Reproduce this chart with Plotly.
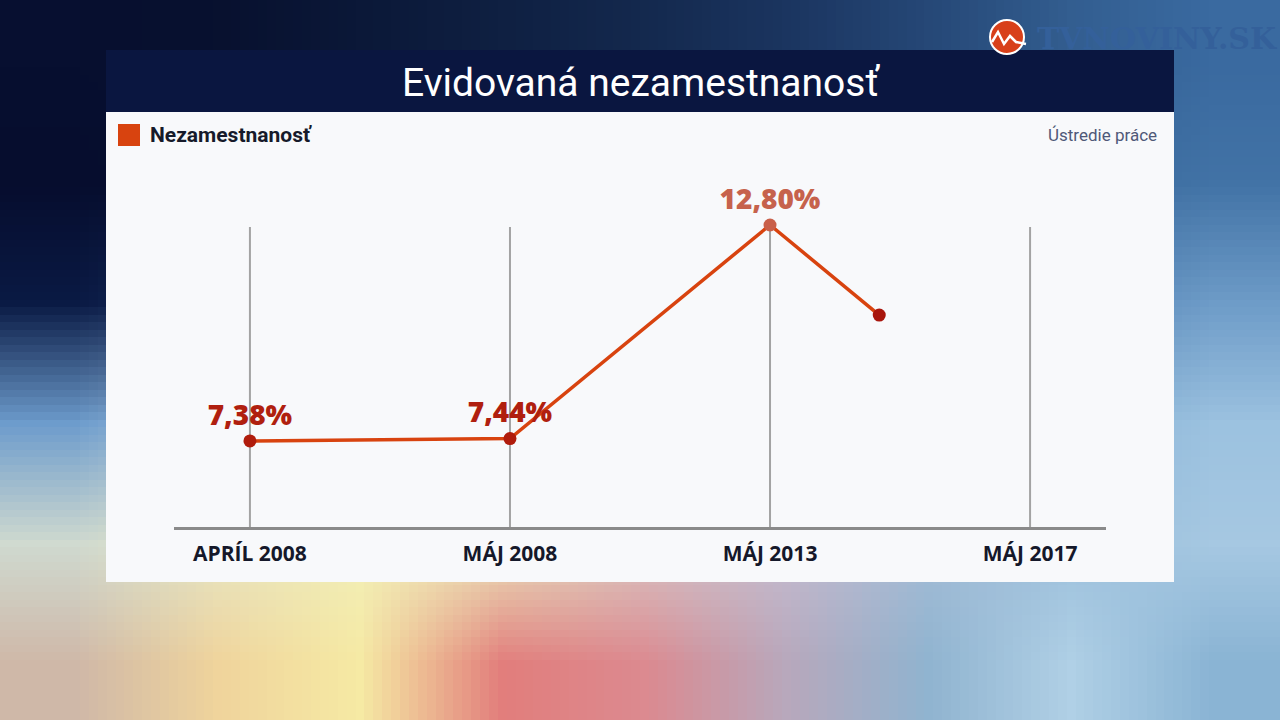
import base64
import struct
import zlib

import plotly.graph_objects as go

# Data read from the TV graphic
period_labels = ["APRÍL 2008", "MÁJ 2008", "MÁJ 2013", "MÁJ 2017"]
period_pos = [0, 1, 2, 3]
point_pos = [0, 1, 2, 2.42]          # last point is still "moving" in the animation
unemployment = [7.38, 7.44, 12.80, 10.54]
point_labels = ["7,38%", "7,44%", "12,80%", ""]

W, H = 1280, 720
Y_BOTTOM = 5.22      # value sitting on the base line
GRID_TOP = 12.75     # vertical guide lines stop here


def px(x):
    return x / W


def py(y):
    return 1 - y / H


def png_data_uri(rows):
    """Build a tiny RGB png from a grid of hex colours (browser stretches & smooths it)."""
    h = len(rows)
    w = len(rows[0])
    raw = b""
    for row in rows:
        raw += b"\x00"
        for c in row:
            c = c.lstrip("#")
            raw += bytes(int(c[i:i + 2], 16) for i in (0, 2, 4))

    def chunk(tag, data):
        out = struct.pack(">I", len(data)) + tag + data
        return out + struct.pack(">I", zlib.crc32(tag + data) & 0xFFFFFFFF)

    png = b"\x89PNG\r\n\x1a\n"
    png += chunk(b"IHDR", struct.pack(">IIBBBBB", w, h, 8, 2, 0, 0, 0))
    png += chunk(b"IDAT", zlib.compress(raw))
    png += chunk(b"IEND", b"")
    return "data:image/png;base64," + base64.b64encode(png).decode()


# rough background colours (blurred studio backdrop)
bg_grid = [
    ["#070f30", "#08112f", "#0b1838", "#0f2042", "#14294e", "#1b3560", "#264877", "#335e90", "#3a6aa0"],
    ["#060d2e", "#08112f", "#0b1838", "#0f2042", "#14294e", "#1b3560", "#2b5080", "#3c6c9e", "#4273a6"],
    ["#0a1a44", "#1a3060", "#5a78a0", "#8aa0c0", "#a0b4cc", "#90aacb", "#6e94c0", "#5a88b8", "#6e9cc8"],
    ["#6d9ccc", "#a4c0dc", "#d8dcd8", "#e4e0d0", "#d8d4d8", "#c0ccdc", "#98b8d8", "#8ab4d6", "#9cc2e0"],
    ["#d0dad0", "#e6e6c4", "#f2efb8", "#eae4bc", "#d8c4c4", "#c4bcd0", "#a4bcd6", "#9cc0dc", "#a6c8e2"],
    ["#cfb8a8", "#f0d49c", "#f6eaa4", "#e27e7c", "#dc8a90", "#b8a8bc", "#90b4d0", "#b0d0e6", "#8ab4d4"],
]

fig = go.Figure()

# vertical guide lines at each period
for pos in period_pos:
    fig.add_shape(type="line", xref="x", yref="y", x0=pos, x1=pos, y0=Y_BOTTOM, y1=GRID_TOP,
                  line=dict(color="#a3a3a3", width=2), layer="below")

fig.add_trace(go.Scatter(
    x=point_pos,
    y=unemployment,
    mode="lines+markers+text",
    line=dict(color="#d8430f", width=3.5),
    marker=dict(size=13, color=["#b01c0c", "#b01c0c", "#c9604a", "#a8150c"]),
    text=point_labels,
    textposition="top center",
    textfont=dict(family="Open Sans", size=28, weight=800,
                  color=["#b01f0f", "#b01f0f", "#c6624c", "#b01f0f"]),
    cliponaxis=False,
    hoverinfo="skip",
    showlegend=False,
))

shapes = [
    # title bar
    dict(type="rect", xref="paper", yref="paper", x0=px(106), x1=px(1174), y0=py(112), y1=py(50),
         fillcolor="#0a1640", line_width=0, layer="below"),
    # white panel
    dict(type="rect", xref="paper", yref="paper", x0=px(106), x1=px(1174), y0=py(582), y1=py(112),
         fillcolor="#f8f9fb", line_width=0, layer="below"),
    # legend swatch
    dict(type="rect", xref="paper", yref="paper", x0=px(118), x1=px(140), y0=py(146), y1=py(124),
         fillcolor="#d8430f", line_width=0),
    # logo circle
    dict(type="circle", xref="paper", yref="paper", x0=px(990), x1=px(1024), y0=py(54), y1=py(20),
         fillcolor="#d8401a", line=dict(color="white", width=2)),
    dict(type="path", xref="paper", yref="paper",
         path=f"M {px(992)} {py(42)} L {px(998)} {py(32)} L {px(1004)} {py(44)} "
              f"L {px(1010)} {py(36)} L {px(1016)} {py(42)} L {px(1026)} {py(44)}",
         line=dict(color="white", width=2.5)),
]

annotations = [
    dict(text="Evidovaná nezamestnanosť", xref="paper", yref="paper", x=px(641), y=py(83),
         xanchor="center", yanchor="middle", showarrow=False,
         font=dict(family="Roboto", size=39, color="white")),
    dict(text="Nezamestnanosť", xref="paper", yref="paper", x=px(148), y=py(135),
         xanchor="left", yanchor="middle", showarrow=False,
         font=dict(family="Roboto", size=21, weight=700, color="#161a2a")),
    dict(text="Ústredie práce", xref="paper", yref="paper", x=px(1159), y=py(135),
         xanchor="right", yanchor="middle", showarrow=False,
         font=dict(family="Roboto", size=17, color="#4f5878")),
    dict(text="TVNOVINY.SK", xref="paper", yref="paper", x=px(1035), y=py(38),
         xanchor="left", yanchor="middle", showarrow=False,
         font=dict(family="DejaVu Serif", size=30, weight=700, color="#34609a")),
]

for s in shapes:
    fig.add_shape(**s)

fig.update_layout(
    width=W,
    height=H,
    margin=dict(l=0, r=0, t=0, b=0),
    paper_bgcolor="#0a1538",
    plot_bgcolor="rgba(0,0,0,0)",
    annotations=annotations,
    images=[dict(source=png_data_uri(bg_grid), xref="paper", yref="paper", x=0, y=1,
                 sizex=1, sizey=1, sizing="stretch", xanchor="left", yanchor="top",
                 layer="below")],
    xaxis=dict(
        domain=[px(174), px(1106)],
        range=[-0.292, 3.292],
        tickvals=period_pos,
        ticktext=period_labels,
        showgrid=False,
        showline=True,
        linecolor="#8a8a8a",
        linewidth=3,
        zeroline=False,
        ticks="",
        ticklabelstandoff=6,
        tickfont=dict(family="Open Sans", size=21, weight=700, color="#15182a"),
        fixedrange=True,
    ),
    yaxis=dict(
        domain=[py(527), py(167)],
        range=[Y_BOTTOM, 14.256],
        visible=False,
        fixedrange=True,
    ),
)

fig.write_html(
    "out.html",
    config={"displayModeBar": False},
    post_script="document.body.style.margin='0';document.body.style.overflow='hidden';",
)
